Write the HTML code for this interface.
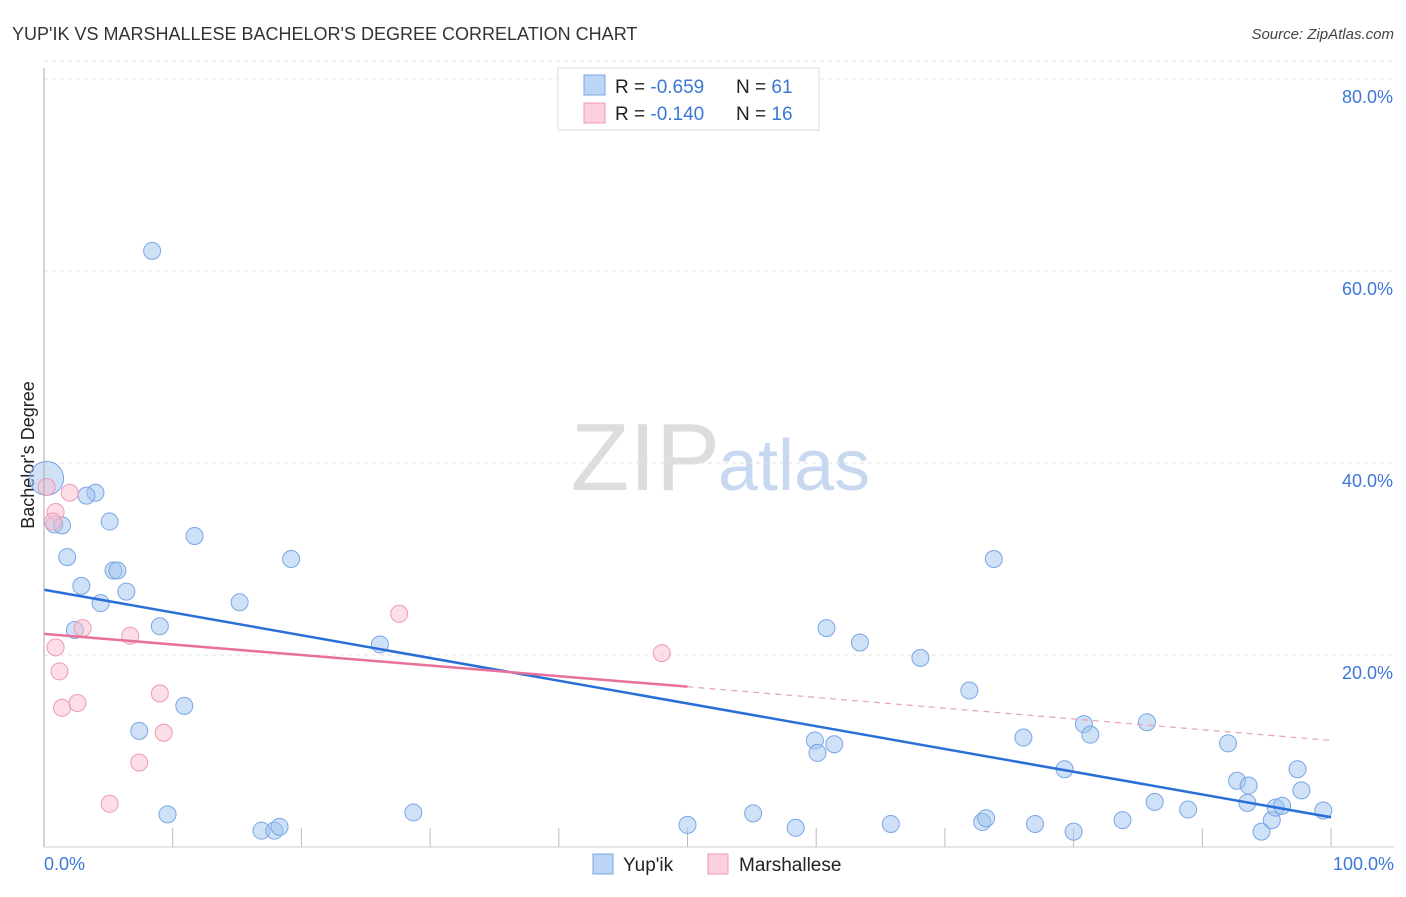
<!DOCTYPE html>
<html><head><meta charset="utf-8"><style>
body{margin:0;background:#fff;font-family:"Liberation Sans",sans-serif;}
svg text{font-family:"Liberation Sans",sans-serif;}
</style></head><body>
<svg id="c" width="1406" height="892" xmlns="http://www.w3.org/2000/svg">
<text x="12" y="40" font-size="18" fill="#333">YUP'IK VS MARSHALLESE BACHELOR'S DEGREE CORRELATION CHART</text>
<text x="1394" y="39" font-size="15" fill="#444" font-style="italic" text-anchor="end">Source: ZipAtlas.com</text>
<text x="34" y="455" font-size="18" fill="#222" text-anchor="middle" transform="rotate(-90 34 455)">Bachelor's Degree</text>
<text x="720" y="490" font-size="96" fill="#ddd" text-anchor="end" font-family="Liberation Serif">ZIP</text>
<text x="718" y="490" font-size="72" fill="#c8d8f0">atlas</text>
<g id="grid"></g>
<g id="pts"></g>
<g id="trend"></g>
<line x1="44" y1="68" x2="44" y2="847" stroke="#aaa"/>
<line x1="44" y1="847" x2="1394" y2="847" stroke="#ccc"/>
<text x="44" y="870" font-size="18" fill="#3a78d8">0.0%</text>
<text x="1394" y="870" font-size="18" fill="#3a78d8" text-anchor="end">100.0%</text>
<g>
<rect x="558" y="68" width="261" height="62" fill="#fff" stroke="#ddd"/>
<rect x="584" y="75" width="21" height="20" fill="#bcd4f5" stroke="#7aa6e6"/>
<rect x="584" y="103" width="21" height="20" fill="#fcd0dc" stroke="#ee9ab2"/>
<text x="615" y="93" font-size="19" fill="#222">R = <tspan fill="#3a78d8">-0.659</tspan></text>
<text x="736" y="93" font-size="19" fill="#222">N = <tspan fill="#3a78d8">61</tspan></text>
<text x="615" y="120" font-size="19" fill="#222">R = <tspan fill="#3a78d8">-0.140</tspan></text>
<text x="736" y="120" font-size="19" fill="#222">N = <tspan fill="#3a78d8">16</tspan></text>
</g>
<g>
<rect x="593" y="854" width="20" height="20" fill="#bcd4f5" stroke="#7aa6e6"/>
<text x="623" y="871" font-size="19" fill="#222">Yup'ik</text>
<rect x="708" y="854" width="20" height="20" fill="#fcd0dc" stroke="#ee9ab2"/>
<text x="739" y="871" font-size="19" fill="#222">Marshallese</text>
</g>
</svg>
<script>
const yTicks=[20,40,60,80];
const yTickLabels=["20.0%","40.0%","60.0%","80.0%"];
const xTicks=[0,10,20,30,40,50,60,70,80,90,100];
const yupikX=[8.4,0.2,4.0,3.3,5.1,0.8,1.4,11.7,1.8,19.2,5.4,5.7,2.9,6.4,4.4,15.2,2.4,9.0,26.1,7.4,10.9,9.6,16.9,17.9,18.3,28.7,50.0,55.1,58.4,60.8,63.4,68.1,71.9,73.8,59.9,60.1,61.4,65.8,72.9,73.2,76.1,77.0,79.3,80.0,80.8,81.3,83.8,85.7,86.3,88.9,92.0,92.7,93.6,93.5,94.6,95.4,95.7,96.2,97.4,97.7,99.4];
const yupikY=[62.1,38.4,36.9,36.6,33.9,33.6,33.5,32.4,30.2,30.0,28.8,28.8,27.2,26.6,25.4,25.5,22.6,23.0,21.1,12.1,14.7,3.4,1.7,1.7,2.1,3.6,2.3,3.5,2.0,22.8,21.3,19.7,16.3,30.0,11.1,9.8,10.7,2.4,2.6,3.0,11.4,2.4,8.1,1.6,12.8,11.7,2.8,13.0,4.7,3.9,10.8,6.9,6.4,4.6,1.6,2.8,4.1,4.3,8.1,5.9,3.8];
const yupikSize=[1,2,1,1,1,1,1,1,1,1,1,1,1,1,1,1,1,1,1,1,1,1,1,1,1,1,1,1,1,1,1,1,1,1,1,1,1,1,1,1,1,1,1,1,1,1,1,1,1,1,1,1,1,1,1,1,1,1,1,1,1];
const marshX=[0.2,2.0,0.9,0.7,0.9,3.0,6.7,1.2,1.4,2.6,9.0,9.3,7.4,5.1,27.6,48.0];
const marshY=[37.5,36.9,34.9,33.9,20.8,22.8,22.0,18.3,14.5,15.0,16.0,11.9,8.8,4.5,24.3,20.2];
const yupikTrend=[26.8,3.1];       // y at x=0 and x=100
const marshTrend=[22.2,16.7,11.1]; // y at x=0, x=50 (solid end), x=100

const X=v=>44+v*12.87, Y=v=>847-v*9.6;
const NS="http://www.w3.org/2000/svg";
function mk(tag,attrs,parent){const e=document.createElementNS(NS,tag);for(const k in attrs)e.setAttribute(k,attrs[k]);document.getElementById(parent).appendChild(e);return e;}
yTicks.forEach((t,i)=>{
  const l=mk('line',{x1:44,x2:1394,y1:Y(t),y2:Y(t),stroke:'#e2e2e2','stroke-dasharray':'4 4'},'grid');
  
  
  const tx=mk('text',{x:1393,y:Y(t)+24,'font-size':18,fill:'#3a78d8','text-anchor':'end'},'grid');
  tx.textContent=yTickLabels[i];
  
  
});
mk('line',{x1:44,x2:1394,y1:Y(80)-18,y2:Y(80)-18,stroke:'#e2e2e2','stroke-dasharray':'4 4'},'grid');
xTicks.forEach(t=>{
  const l=mk('line',{x1:X(t),x2:X(t),y1:828,y2:847,stroke:'#bbb'},'grid');
  
  
});
yupikX.forEach((v,i)=>{
  const c=mk('circle',{cx:X(v),cy:Y(yupikY[i]),r:yupikSize[i]>1?17:8.5,fill:'rgba(160,196,240,0.5)',stroke:'#7aa6e6','stroke-width':1},'pts');
  
  
});
marshX.forEach((v,i)=>{
  const c=mk('circle',{cx:X(v),cy:Y(marshY[i]),r:8.5,fill:'rgba(250,190,208,0.5)',stroke:'#ee9ab2','stroke-width':1},'pts');
  
  
});
const bt=mk('line',{x1:X(0),y1:Y(yupikTrend[0]),x2:X(100),y2:Y(yupikTrend[1]),stroke:'#2a6fd8','stroke-width':2.5},'trend');


const pt=mk('line',{x1:X(0),y1:Y(marshTrend[0]),x2:X(50),y2:Y(marshTrend[1]),stroke:'#e8709a','stroke-width':2.5},'trend');


const pd=mk('line',{x1:X(50),y1:Y(marshTrend[1]),x2:X(100),y2:Y(marshTrend[2]),stroke:'#e8a0b8','stroke-width':1.2,'stroke-dasharray':'6 5'},'trend');


</script>
</body></html>
